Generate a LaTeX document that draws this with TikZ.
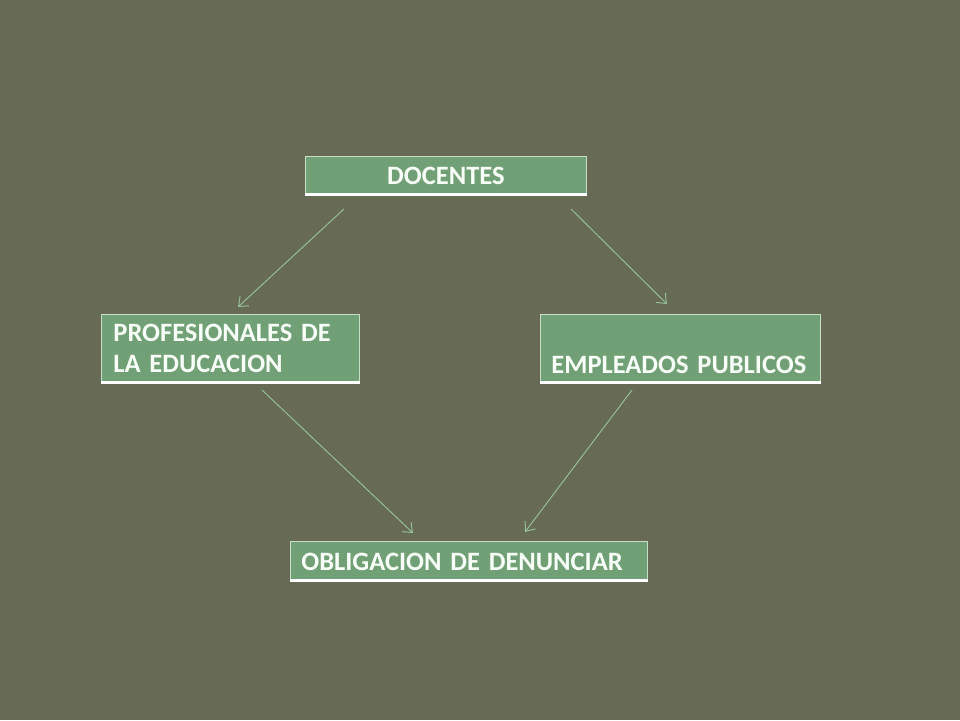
\documentclass[tikz,border=0pt]{standalone}
\usepackage{fontspec}
\setmainfont{Carlito}
\usetikzlibrary{arrows.meta}
\definecolor{bg}{RGB}{103,106,85}
\definecolor{boxfill}{RGB}{114,160,118}
\definecolor{boxline}{RGB}{200,222,200}
\definecolor{arr}{RGB}{150,190,150}
\definecolor{txt}{RGB}{248,255,248}
\DeclareRobustCommand\myboxfont{\bfseries\fontsize{26.5}{31}\selectfont\fontdimen2\font=1.5pt\relax}
\tikzset{
  box/.style={draw=boxline, line width=0.8pt, fill=boxfill, text=txt,
    font=\myboxfont, inner sep=0pt, anchor=north west},
  conn/.style={draw=arr, line width=1pt, -{Straight Barb[length=8pt,width=13pt,line width=1pt]}},
}
\begin{document}
\begin{tikzpicture}[x=1pt,y=-1pt]
\fill[bg] (0,0) rectangle (960,720);
\useasboundingbox (0,0) rectangle (960,720);
\node[box, minimum width=281, minimum height=39, align=center] (doc) at (305,156) {DOCENTES};
\node[box, minimum width=258, minimum height=69, text width=234, align=left] (prof) at (101,314) {PROFESIONALES DE\\LA EDUCACION};
\node[box, minimum width=280, minimum height=69, text width=258, align=left] (emp) at (540,314) {\mbox{}\\[18pt]EMPLEADOS PUBLICOS};
\node[box, minimum width=357, minimum height=40, text width=335, align=left] (obl) at (290,541) {OBLIGACION DE DENUNCIAR};
\foreach \n in {doc,prof,emp,obl}
  \draw[white, line width=2.6pt] ([yshift=1.3pt]\n.south west) -- ([yshift=1.3pt]\n.south east);
\coordinate (a1) at (344,209); \coordinate (a2) at (238,307);
\coordinate (b1) at (571,209); \coordinate (b2) at (667,304);
\coordinate (c1) at (262,390); \coordinate (c2) at (413,533);
\coordinate (d1) at (632,390); \coordinate (d2) at (525,532);
\draw[conn] (a1) -- (a2);
\draw[conn] (b1) -- (b2);
\draw[conn] (c1) -- (c2);
\draw[conn] (d1) -- (d2);
\end{tikzpicture}
\end{document}
